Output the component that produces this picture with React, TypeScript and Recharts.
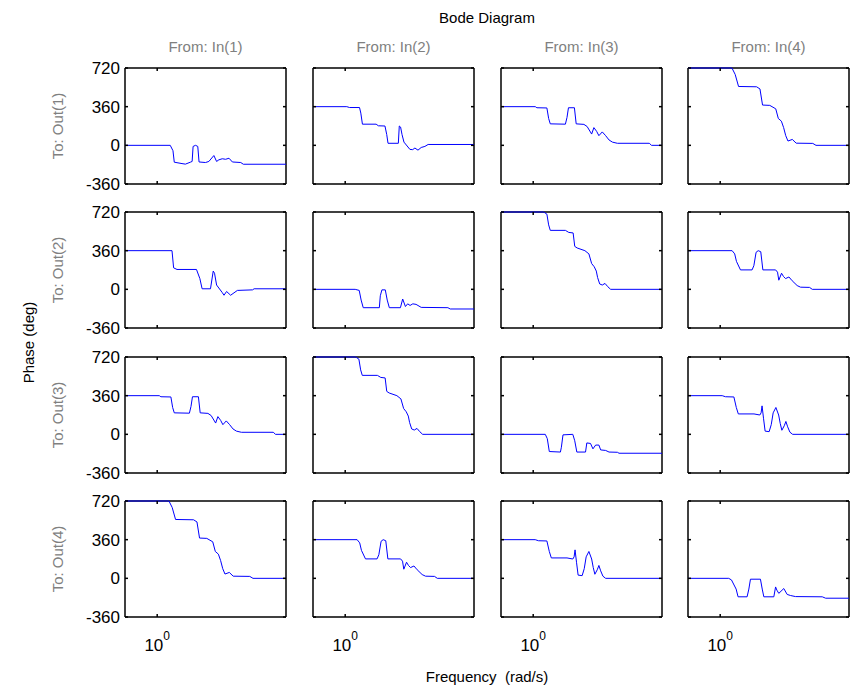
import React from 'react';
import { LineChart, Line, XAxis, YAxis } from 'recharts';

const FONT = '"Liberation Sans", Arial, Helvetica, sans-serif';

// log10(frequency) axis range, one decade tick at 10^0
const X_DOMAIN: [number, number] = [-0.2, 0.8];
const X_TICKS = [0];
const Y_DOMAIN: [number, number] = [-360, 720];
const Y_TICKS = [-360, 0, 360, 720];

const TITLE = 'Bode Diagram';
const X_LABEL = 'Frequency  (rad/s)';
const Y_LABEL = 'Phase (deg)';
const COL_LABELS = ['From: In(1)', 'From: In(2)', 'From: In(3)', 'From: In(4)'];
const ROW_LABELS = ['To: Out(1)', 'To: Out(2)', 'To: Out(3)', 'To: Out(4)'];

// [log10(w), phase deg]
const P11: [number, number][] = [[-0.2,0],[0.081,0],[0.098,-50],[0.106,-157],[0.154,-170],[0.175,-175],[0.206,-157],[0.217,-150],[0.223,-10],[0.238,0],[0.252,-10],[0.26,-155],[0.3,-160],[0.321,-150],[0.352,-95],[0.369,-150],[0.383,-135],[0.404,-125],[0.425,-130],[0.446,-120],[0.467,-155],[0.519,-160],[0.535,-176],[0.8,-176]];
const P12: [number, number][] = [[-0.2,360],[0.01,360],[0.027,352],[0.089,352],[0.097,300],[0.107,197],[0.192,197],[0.206,182],[0.247,180],[0.258,100],[0.266,19],[0.33,19],[0.336,180],[0.344,170],[0.353,100],[0.365,30],[0.402,-38],[0.419,-40],[0.433,-25],[0.452,-45],[0.472,-20],[0.495,-10],[0.515,8],[0.8,8]];
const P13: [number, number][] = [[-0.2,360],[0.013,360],[0.023,350],[0.085,348],[0.096,250],[0.106,200],[0.2,197],[0.21,260],[0.219,350],[0.256,350],[0.267,200],[0.315,195],[0.335,175],[0.363,105],[0.377,165],[0.394,130],[0.408,90],[0.429,125],[0.45,90],[0.471,50],[0.492,30],[0.523,19],[0.721,19],[0.735,0],[0.8,0]];
const P14: [number, number][] = [[-0.2,720],[0.073,720],[0.093,660],[0.114,548],[0.226,545],[0.247,525],[0.263,375],[0.308,372],[0.345,340],[0.361,250],[0.38,225],[0.394,165],[0.407,90],[0.421,40],[0.448,55],[0.472,20],[0.575,18],[0.595,0],[0.8,0]];
const P21: [number, number][] = [[-0.2,360],[0.092,360],[0.102,200],[0.123,185],[0.244,185],[0.265,100],[0.279,5],[0.331,5],[0.348,170],[0.356,150],[0.369,40],[0.404,-30],[0.415,-55],[0.431,-20],[0.456,-55],[0.498,-10],[0.592,-5],[0.602,5],[0.8,5]];
const P22: [number, number][] = [[-0.2,0],[0.062,0],[0.087,-10],[0.099,-100],[0.112,-171],[0.212,-171],[0.218,-60],[0.228,-5],[0.249,-5],[0.261,-100],[0.274,-171],[0.343,-171],[0.357,-90],[0.374,-160],[0.388,-135],[0.403,-150],[0.42,-135],[0.44,-140],[0.472,-168],[0.638,-171],[0.652,-183],[0.8,-183]];
const P23: [number, number][] = [[-0.2,720],[0.065,720],[0.085,700],[0.096,600],[0.106,549],[0.2,549],[0.221,530],[0.248,525],[0.258,400],[0.273,385],[0.321,360],[0.346,330],[0.363,240],[0.379,210],[0.392,170],[0.4,110],[0.413,50],[0.429,40],[0.446,55],[0.463,25],[0.481,0],[0.8,0]];
const P24: [number, number][] = [[-0.2,360],[0.074,360],[0.09,330],[0.101,260],[0.126,181],[0.198,181],[0.209,220],[0.223,345],[0.236,360],[0.252,350],[0.265,181],[0.344,181],[0.356,160],[0.364,85],[0.381,150],[0.393,120],[0.406,100],[0.427,115],[0.447,80],[0.478,35],[0.499,20],[0.555,18],[0.572,0],[0.8,0]];
const P31: [number, number][] = [[-0.2,360],[0.013,360],[0.023,350],[0.085,348],[0.096,250],[0.106,200],[0.2,197],[0.21,260],[0.219,350],[0.256,350],[0.267,200],[0.315,195],[0.335,175],[0.363,105],[0.377,165],[0.394,130],[0.408,90],[0.429,125],[0.45,90],[0.471,50],[0.492,30],[0.523,19],[0.721,19],[0.735,0],[0.8,0]];
const P32: [number, number][] = [[-0.2,720],[0.065,720],[0.085,700],[0.096,600],[0.106,549],[0.2,549],[0.221,530],[0.248,525],[0.258,400],[0.273,385],[0.321,360],[0.346,330],[0.363,240],[0.379,210],[0.392,170],[0.4,110],[0.413,50],[0.429,40],[0.446,55],[0.463,25],[0.481,0],[0.8,0]];
const P33: [number, number][] = [[-0.2,0],[0.075,0],[0.0875,-40],[0.1,-160],[0.169,-165],[0.175,-120],[0.185,-5],[0.246,0],[0.258,-60],[0.271,-165],[0.325,-165],[0.333,-80],[0.356,-85],[0.371,-135],[0.388,-100],[0.408,-100],[0.419,-145],[0.45,-150],[0.471,-165],[0.523,-167],[0.533,-176],[0.8,-176]];
const P34: [number, number][] = [[-0.2,360],[0.0125,360],[0.033,350],[0.085,348],[0.1,250],[0.1125,190],[0.21,190],[0.246,180],[0.254,200],[0.26,265],[0.269,150],[0.279,30],[0.304,25],[0.317,90],[0.329,200],[0.346,250],[0.363,180],[0.373,100],[0.383,38],[0.398,80],[0.408,120],[0.419,70],[0.433,20],[0.45,0],[0.8,0]];
const P41: [number, number][] = [[-0.2,720],[0.073,720],[0.093,660],[0.114,548],[0.226,545],[0.247,525],[0.263,375],[0.308,372],[0.345,340],[0.361,250],[0.38,225],[0.394,165],[0.407,90],[0.421,40],[0.448,55],[0.472,20],[0.575,18],[0.595,0],[0.8,0]];
const P42: [number, number][] = [[-0.2,360],[0.074,360],[0.09,330],[0.101,260],[0.126,181],[0.198,181],[0.209,220],[0.223,345],[0.236,360],[0.252,350],[0.265,181],[0.344,181],[0.356,160],[0.364,85],[0.381,150],[0.393,120],[0.406,100],[0.427,115],[0.447,80],[0.478,35],[0.499,20],[0.555,18],[0.572,0],[0.8,0]];
const P43: [number, number][] = [[-0.2,360],[0.0125,360],[0.033,350],[0.085,348],[0.1,250],[0.1125,190],[0.21,190],[0.246,180],[0.254,200],[0.26,265],[0.269,150],[0.279,30],[0.304,25],[0.317,90],[0.329,200],[0.346,250],[0.363,180],[0.373,100],[0.383,38],[0.398,80],[0.408,120],[0.419,70],[0.433,20],[0.45,0],[0.8,0]];
const P44: [number, number][] = [[-0.2,0],[0.053,0],[0.07,-15],[0.099,-100],[0.111,-172],[0.167,-172],[0.178,-100],[0.188,-8],[0.25,-8],[0.261,-100],[0.271,-172],[0.333,-172],[0.344,-80],[0.352,-110],[0.364,-140],[0.395,-95],[0.416,-150],[0.437,-160],[0.468,-170],[0.634,-172],[0.655,-185],[0.8,-185]];

const GRID = [
  [P11, P12, P13, P14],
  [P21, P22, P23, P24],
  [P31, P32, P33, P34],
  [P41, P42, P43, P44],
];

// layout
const COL_LEFT = [125, 313, 501, 688];
const ROW_TOP = [68, 212, 357, 501];
const PW = 161;
const PH = 116;
const AXW = 60;
const AXH = 50;
const PAD = 12;
const TL = 3;

const BottomTick = (p: any) => {
  const { x, y, showLabel } = p;
  return (
    <g>
      <line x1={x} y1={y} x2={x} y2={y - TL} stroke="#000" strokeWidth={1.5} />
      {showLabel && (
        <text x={x} y={y + 34} textAnchor="middle" fontFamily={FONT} fontSize={17} fill="#000">
          10<tspan fontSize={12} dy={-11}>0</tspan>
        </text>
      )}
    </g>
  );
};

const TopTick = (p: any) => {
  const { x, y } = p;
  return <line x1={x} y1={y} x2={x} y2={y + TL} stroke="#000" strokeWidth={1.5} />;
};

const LeftTick = (p: any) => {
  const { x, y, payload, showLabel } = p;
  return (
    <g>
      <line x1={x} y1={y} x2={x + TL} y2={y} stroke="#000" strokeWidth={1.5} />
      {showLabel && (
        <text x={x - 5} y={y} dy="0.36em" textAnchor="end" fontFamily={FONT} fontSize={17} fill="#000">
          {payload.value}
        </text>
      )}
    </g>
  );
};

const RightTick = (p: any) => {
  const { x, y } = p;
  return <line x1={x} y1={y} x2={x - TL} y2={y} stroke="#000" strokeWidth={1.5} />;
};

const axisLine = { stroke: '#000', strokeWidth: 1.5 };

const Panel = ({ row, col }: { row: number; col: number }) => {
  const data = GRID[row][col].map(([x, y]) => ({ x, y }));
  return (
    <div style={{ position: 'absolute', left: COL_LEFT[col] - AXW, top: ROW_TOP[row] - PAD }}>
      <LineChart
        width={AXW + PW + PAD}
        height={PAD + PH + AXH}
        data={data}
        margin={{ top: PAD - 1, right: PAD - 1, bottom: 0, left: 0 }}
      >
        <XAxis
          xAxisId="b"
          dataKey="x"
          type="number"
          domain={X_DOMAIN}
          ticks={X_TICKS}
          orientation="bottom"
          height={AXH}
          axisLine={axisLine}
          tickLine={false}
          tickSize={0}
          tickMargin={0}
          interval={0}
          tick={(p: any) => <BottomTick {...p} showLabel={row === 3} />}
        />
        <XAxis
          xAxisId="t"
          dataKey="x"
          type="number"
          domain={X_DOMAIN}
          ticks={X_TICKS}
          orientation="top"
          height={1}
          axisLine={axisLine}
          tickLine={false}
          tickSize={0}
          tickMargin={0}
          interval={0}
          tick={(p: any) => <TopTick {...p} />}
        />
        <YAxis
          yAxisId="l"
          type="number"
          domain={Y_DOMAIN}
          ticks={Y_TICKS}
          orientation="left"
          width={AXW}
          axisLine={axisLine}
          tickLine={false}
          tickSize={0}
          tickMargin={0}
          interval={0}
          tick={(p: any) => <LeftTick {...p} showLabel={col === 0} />}
        />
        <YAxis
          yAxisId="r"
          type="number"
          domain={Y_DOMAIN}
          ticks={Y_TICKS}
          orientation="right"
          width={1}
          axisLine={axisLine}
          tickLine={false}
          tickSize={0}
          tickMargin={0}
          interval={0}
          tick={(p: any) => <RightTick {...p} />}
        />
        <Line
          xAxisId="t"
          yAxisId="r"
          type="linear"
          dataKey="y"
          stroke="none"
          strokeWidth={0}
          dot={false}
          activeDot={false}
          legendType="none"
          isAnimationActive={false}
        />
        <Line
          xAxisId="b"
          yAxisId="l"
          type="linear"
          dataKey="y"
          stroke="#0000ff"
          strokeWidth={1}
          dot={false}
          activeDot={false}
          isAnimationActive={false}
          {...({ zIndex: 900 } as any)}
        />
      </LineChart>
    </div>
  );
};

export default function App() {
  const panels = [];
  for (let r = 0; r < 4; r++) {
    for (let c = 0; c < 4; c++) {
      panels.push(<Panel key={`${r}-${c}`} row={r} col={c} />);
    }
  }
  const midX = (COL_LEFT[0] + COL_LEFT[3] + PW) / 2;
  const midY = (ROW_TOP[0] + ROW_TOP[3] + PH) / 2;
  return (
    <div style={{ position: 'absolute', left: 0, top: 0, width: 861, height: 688, background: '#fff', overflow: 'hidden' }}>
      {panels}
      <svg width={861} height={688} style={{ position: 'absolute', left: 0, top: 0, pointerEvents: 'none' }}>
        <text x={midX} y={23} textAnchor="middle" fontFamily={FONT} fontSize={15} fill="#000">{TITLE}</text>
        {COL_LABELS.map((t, i) => (
          <text key={t} x={COL_LEFT[i] + PW / 2} y={52} textAnchor="middle" fontFamily={FONT} fontSize={15} fill="#808080">{t}</text>
        ))}
        {ROW_LABELS.map((t, i) => {
          const cy = ROW_TOP[i] + PH / 2;
          return (
            <text key={t} x={63} y={cy} transform={`rotate(-90 63 ${cy})`} textAnchor="middle" fontFamily={FONT} fontSize={15} fill="#808080">{t}</text>
          );
        })}
        <text x={34} y={midY} transform={`rotate(-90 34 ${midY})`} textAnchor="middle" fontFamily={FONT} fontSize={15} fill="#000">{Y_LABEL}</text>
        <text x={midX} y={682} textAnchor="middle" fontFamily={FONT} fontSize={15} fill="#000" style={{ whiteSpace: 'pre' }} xmlSpace="preserve">{X_LABEL}</text>
      </svg>
    </div>
  );
}
